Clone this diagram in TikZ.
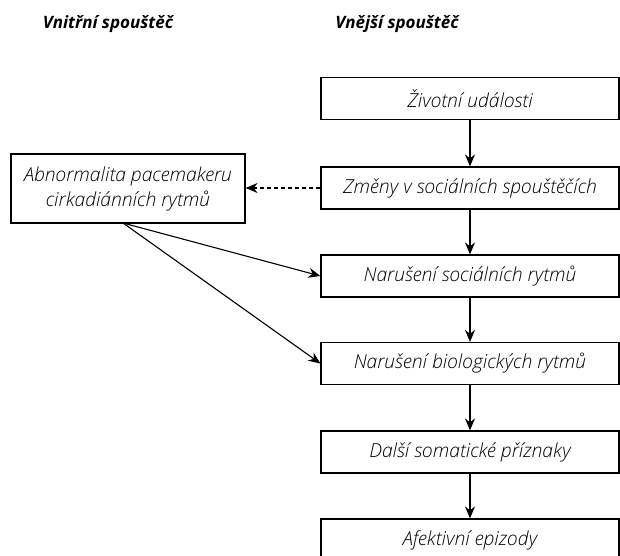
\documentclass[tikz,border=0pt]{standalone}
\usepackage{fontspec}
\setmainfont{Open Sans}[ItalicFont={Open Sans Light Italic},BoldItalicFont={Open Sans Bold Italic}]
\usetikzlibrary{arrows.meta}
\begin{document}
\begin{tikzpicture}[x=1pt,y=-1pt,
  box/.style={draw,line width=1.2pt,minimum width=298pt,minimum height=42pt,inner sep=0pt,font=\itshape\fontsize{19.3}{22}\selectfont},
  lbox/.style={draw,line width=1.2pt,minimum width=234pt,minimum height=69pt,inner sep=0pt,align=center,font=\itshape\fontsize{19.3}{25}\selectfont},
  head/.style={font=\bfseries\itshape\fontsize{17}{20}\selectfont},
  arr/.style={line width=1.1pt,-{Stealth[length=12pt,width=10pt]}}]
\useasboundingbox (0,0) rectangle (620,555);
\node[head] (h1) at (108,24) {Vnitřní spouštěč};
\node[head] (h2) at (397,24) {Vnější spouštěč};
\node[box] (b1) at (470,98.5) {Životní události};
\node[box] (b2) at (470,188) {Změny v sociálních spouštěčích};
\node[box] (b3) at (470,276) {Narušení sociálních rytmů};
\node[box] (b4) at (470,363.5) {Narušení biologických rytmů};
\node[box] (b5) at (470,452) {Další somatické příznaky};
\node[box] (b6) at (470,540) {Afektivní epizody};
\node[lbox] (a) at (128,188.5) {Abnormalita pacemakeru\\cirkadiánních rytmů};
\coordinate (s) at (123,223);
\draw[arr] (b1) -- (b2);
\draw[arr] (b2) -- (b3);
\draw[arr] (b3) -- (b4);
\draw[arr] (b4) -- (b5);
\draw[arr] (b5) -- (b6);
\draw[arr,dash pattern=on 4pt off 3pt] (b2.west) -- (a.east |- b2.west);
\draw[arr] (s) -- (b3.west);
\draw[arr] (s) -- (b4.west);
\end{tikzpicture}
\end{document}
